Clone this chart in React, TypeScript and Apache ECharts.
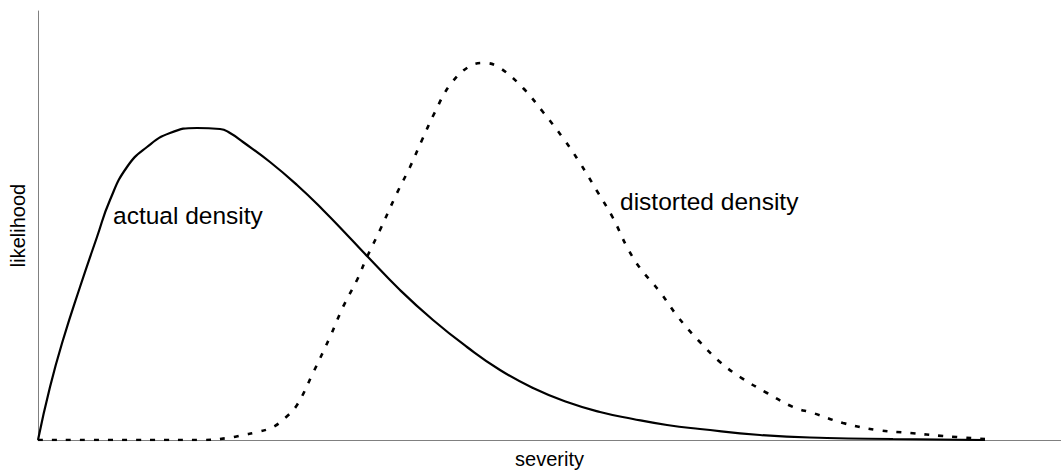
import React, { useEffect, useRef } from "react";
import * as echarts from "echarts";

// severity (x) and likelihood (y) readings, in chart units
const actualX = [0, 12, 25, 42, 59, 72, 89, 109, 132, 159, 182, 192, 205, 232, 259, 285, 312, 330, 362, 395, 429, 462, 495, 529, 562, 595, 629, 662, 722, 789, 855, 947];
const actualY = [0, 53, 100, 153, 203, 240, 273, 293, 307, 312, 311, 307, 298, 278, 255, 230, 202, 183, 150, 120, 93, 70, 52, 38, 28, 21, 15, 11, 5, 2, 1, 0];

const distortedX = [0, 112, 164, 190, 205, 220, 235, 247, 259, 275, 292, 305, 319, 329, 342, 359, 372, 384, 397, 412, 432, 447, 462, 485, 505, 525, 542, 559, 575, 589, 602, 622, 640, 660, 682, 702, 729, 755, 775, 805, 839, 872, 905, 947];
const distortedY = [0, 0, 0, 2, 5, 8, 13, 22, 35, 67, 103, 133, 160, 183, 210, 247, 273, 300, 328, 355, 374, 377, 372, 352, 328, 302, 277, 249, 222, 193, 172, 148, 123, 100, 78, 63, 47, 33, 27, 17, 10, 7, 4, 1];

const xMax = 1023;
const yMax = 429;

const curveLabels = ["actual density", "distorted density"];
const axisNames = ["severity", "likelihood"];

const FONT = "Liberation Sans, Arial, Helvetica, sans-serif";

export default function App() {
  const ref = useRef<HTMLDivElement>(null);

  useEffect(() => {
    if (!ref.current) return;
    const chart = echarts.init(ref.current, undefined, { renderer: "svg" });
    const axisLine = { show: true, lineStyle: { color: "#808080", width: 1 } };
    chart.setOption({
      animation: false,
      backgroundColor: "#ffffff",
      grid: { left: 38, right: 0, top: 11, bottom: 31, containLabel: false, outerBoundsMode: "none" },
      xAxis: {
        type: "value",
        min: 0,
        max: xMax,
        name: axisNames[0],
        nameLocation: "middle",
        nameGap: 10,
        nameTextStyle: { fontSize: 20, lineHeight: 18, color: "#000", fontFamily: FONT },
        axisLine,
        axisTick: { show: false },
        axisLabel: { show: false },
        splitLine: { show: false },
      },
      yAxis: {
        type: "value",
        min: 0,
        max: yMax,
        name: axisNames[1],
        nameLocation: "middle",
        nameGap: 10,
        nameTextStyle: { fontSize: 20, color: "#000", fontFamily: FONT },
        axisLine,
        axisTick: { show: false },
        axisLabel: { show: false },
        splitLine: { show: false },
      },
      series: [
        {
          type: "line",
          name: curveLabels[0],
          data: actualX.map((x, i) => [x, actualY[i]]),
          smooth: 0.5,
          showSymbol: false,
          lineStyle: { color: "#000", width: 2.2 },
          z: 3,
        },
        {
          type: "line",
          name: curveLabels[1],
          data: distortedX.map((x, i) => [x, distortedY[i]]),
          smooth: 0.4,
          showSymbol: false,
          lineStyle: { color: "#000", width: 2.6, type: [5, 9] },
          z: 2,
        },
      ],
      graphic: [
        {
          type: "text",
          left: 113,
          top: 203,
          style: { text: curveLabels[0], fontSize: 24.5, fill: "#000", fontFamily: FONT },
        },
        {
          type: "text",
          left: 620,
          top: 189,
          style: { text: curveLabels[1], fontSize: 24.5, fill: "#000", fontFamily: FONT },
        },
      ],
    });
    return () => chart.dispose();
  }, []);

  return (
    <div
      ref={ref}
      style={{ position: "fixed", left: 0, top: 0, width: 1061, height: 471, background: "#fff" }}
    />
  );
}
